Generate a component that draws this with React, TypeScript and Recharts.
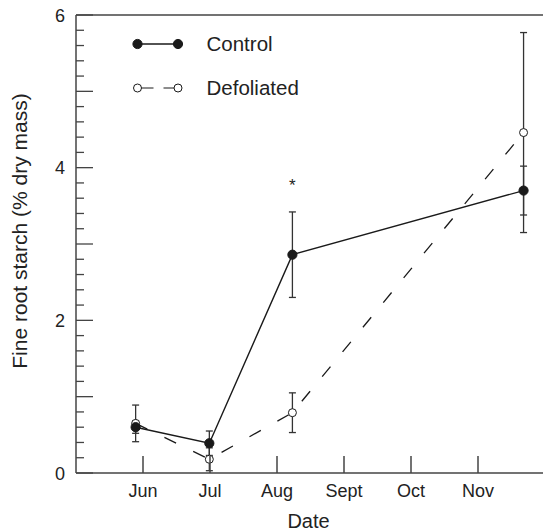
import React from 'react';
import {
  LineChart,
  Line,
  XAxis,
  YAxis,
  ErrorBar,
  ReferenceLine,
  Legend,
  LabelList,
} from 'recharts';

// sampling dates, in month units (6 = Jun tick)
const SAMPLE_X = [5.89, 6.99, 8.23, 11.68];
const CONTROL = [0.6, 0.39, 2.86, 3.7];
const CONTROL_ERR = [0.08, 0.16, 0.56, 0.32];
const DEFOLIATED = [0.65, 0.18, 0.79, 4.46];
const DEFOLIATED_ERR = [0.24, 0.15, 0.26, 1.31];
const SIGNIFICANCE = ['', '', '*', ''];

const MONTH_TICKS = [6, 7, 8, 9, 10, 11];
const MONTH_LABELS = ['Jun', 'Jul', 'Aug', 'Sept', 'Oct', 'Nov'];
const Y_TICKS = Array.from({ length: 31 }, (_, i) => Math.round(i * 2) / 10);

const FONT = '"Liberation Sans", Arial, Helvetica, sans-serif';
const INK = '#1a1a1a';
const AXIS = '#444';
const PLOT_LEFT = 76;
const PLOT_BOTTOM = 473;

const data = SAMPLE_X.map((x, i) => ({
  x,
  control: CONTROL[i],
  controlErr: CONTROL_ERR[i],
  defoliated: DEFOLIATED[i],
  defoliatedErr: DEFOLIATED_ERR[i],
  sig: SIGNIFICANCE[i],
}));

const XTick = ({ x, payload }: any) => {
  const label = MONTH_LABELS[MONTH_TICKS.indexOf(payload.value)];
  return (
    <g>
      <line x1={x} x2={x} y1={PLOT_BOTTOM} y2={PLOT_BOTTOM - 17} stroke={AXIS} strokeWidth={1.5} />
      <text x={x} y={497} textAnchor="middle" fontSize={18} fontFamily={FONT} fill="#222">
        {label}
      </text>
    </g>
  );
};

const YTick = ({ y, payload }: any) => {
  const v = payload.value;
  const whole = Math.abs(v - Math.round(v)) < 1e-6;
  const len = whole ? 17 : 8;
  const showLabel = whole && Math.round(v) % 2 === 0;
  return (
    <g>
      <line x1={PLOT_LEFT} x2={PLOT_LEFT + len} y1={y} y2={y} stroke={AXIS} strokeWidth={1.3} />
      {showLabel && (
        <text x={65} y={y + 6.5} textAnchor="end" fontSize={18} fontFamily={FONT} fill="#222">
          {Math.round(v)}
        </text>
      )}
    </g>
  );
};

const renderLegend = ({ payload }: any) => (
  <svg width={320} height={110}>
    {(payload || []).map((entry: any, i: number) => {
      const dashed = !!entry.payload?.strokeDasharray;
      const cy = 44 + i * 44;
      return (
        <g key={entry.value}>
          <line
            x1={141}
            x2={174}
            y1={cy}
            y2={cy}
            stroke={INK}
            strokeWidth={dashed ? 1 : 1.4}
            strokeDasharray={dashed ? '12.5 10' : undefined}
          />
          {[137.5, 178].map((cx) => (
            <circle
              key={cx}
              cx={cx}
              cy={cy}
              r={dashed ? 4 : 4.6}
              fill={dashed ? '#fff' : INK}
              stroke={INK}
              strokeWidth={1}
            />
          ))}
          <text x={206.5} y={cy + 7.3} fontSize={20.5} fontFamily={FONT} fill="#222">
            {entry.value}
          </text>
        </g>
      );
    })}
  </svg>
);

const renderStar = (props: any) => {
  const { x, y, value } = props;
  if (!value) return null;
  return (
    <text x={x} y={y - 64} textAnchor="middle" fontSize={17} fontFamily={FONT} fill="#222">
      {value}
    </text>
  );
};

export default function App() {
  return (
    <div style={{ position: 'absolute', left: 0, top: 0, width: 543, height: 531, overflow: 'hidden', background: '#fff' }}>
      <LineChart width={548} height={531} data={data} margin={{ top: 15, right: 3, left: 0, bottom: 0 }}>
        <XAxis
          type="number"
          dataKey="x"
          domain={[5, 12]}
          ticks={MONTH_TICKS}
          interval={0}
          height={58}
          tickLine={false}
          tick={<XTick />}
          axisLine={{ stroke: AXIS, strokeWidth: 1.5 }}
          label={{ value: 'Date', position: 'insideBottom', offset: 3, fontSize: 20, fontFamily: FONT, fill: '#222', dx: -2 }}
        />
        <YAxis
          type="number"
          domain={[0, 6]}
          ticks={Y_TICKS}
          interval={0}
          width={PLOT_LEFT}
          tickLine={false}
          tick={<YTick />}
          axisLine={{ stroke: AXIS, strokeWidth: 1.5 }}
          label={{
            value: 'Fine root starch (% dry mass)',
            content: () => (
              <text
                x={27}
                y={231}
                transform="rotate(-90, 27, 231)"
                textAnchor="middle"
                fontSize={21}
                fontFamily={FONT}
                fill="#222"
              >
                Fine root starch (% dry mass)
              </text>
            ),
          }}
        />
        <ReferenceLine y={6} stroke={AXIS} strokeWidth={1.5} />
        <Legend
          layout="vertical"
          align="center"
          verticalAlign="middle"
          content={renderLegend}
          wrapperStyle={{ left: 0, top: 0, width: 320, height: 110 }}
        />
        <Line
          name="Defoliated"
          dataKey="defoliated"
          stroke={INK}
          strokeWidth={1.3}
          strokeDasharray="13 19"
          dot={{ r: 4, fill: '#fff', stroke: INK, strokeWidth: 1, strokeDasharray: '' }}
          isAnimationActive={false}
        >
          <ErrorBar dataKey="defoliatedErr" direction="y" width={3.5} stroke="#333" strokeWidth={1.3} />
        </Line>
        <Line
          name="Control"
          dataKey="control"
          stroke={INK}
          strokeWidth={1.4}
          dot={{ r: 4.6, fill: INK, stroke: INK, strokeWidth: 1 }}
          isAnimationActive={false}
        >
          <ErrorBar dataKey="controlErr" direction="y" width={3.5} stroke="#333" strokeWidth={1.3} />
          <LabelList dataKey="sig" content={renderStar} />
        </Line>
      </LineChart>
    </div>
  );
}
